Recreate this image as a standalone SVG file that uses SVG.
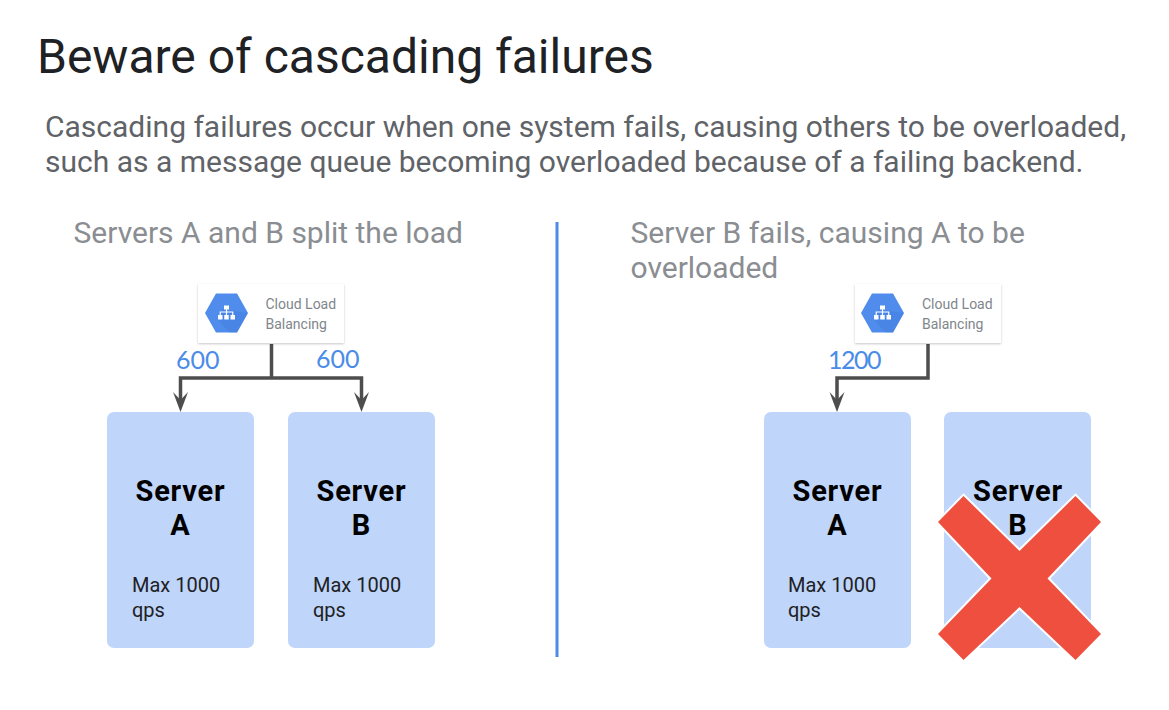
<svg xmlns="http://www.w3.org/2000/svg" width="1169" height="710" viewBox="0 0 1169 710">
<style>
text{font-family:Roboto,"Liberation Sans",sans-serif}
.title{font-size:48px;fill:#202124}
.body{font-size:30px;fill:#5f6368}
.sub{font-size:30px;fill:#8a8d91}
.srv{fill:#bfd5f9}
.name{font-size:29px;font-weight:700;fill:#000;text-anchor:middle;letter-spacing:.8px}
.max{font-size:20px;fill:#202124}
.num{font-size:25px;fill:#4a8ce8;font-family:Lato,Roboto,sans-serif}
.lb{font-size:14px;fill:#80868b}
.card{fill:#fff;filter:url(#sh)}
.wire{fill:none;stroke:#4d4d4d;stroke-width:3.500}
.head{fill:#4d4d4d}
.hex{fill:#4f8cec}
.ico{fill:#fff}
</style>
<defs>
<filter id="sh" x="-5%" y="-10%" width="110%" height="125%"><feDropShadow dx="0" dy="1" stdDeviation="1" flood-color="#000" flood-opacity="0.22"/></filter>
<g id="iconlb">
<path class="hex" d="M-21.500 0L-10.500 -19.500H10.500L21.500 0L10.500 19.500H-10.500Z"/>
<path d="M-4 -4L21.500 0L10.500 19.500H3L-9 6Z" fill="#3b78d8" opacity=".35"/>
<rect class="ico" x="-2.500" y="-7.500" width="5" height="4"/>
<rect class="ico" x="-8.500" y="2" width="4.500" height="4.500"/>
<rect class="ico" x="-2.250" y="2" width="4.500" height="4.500"/>
<rect class="ico" x="4" y="2" width="4.500" height="4.500"/>
<path d="M0 -4V2M-6.250 2V-1H6.250V2" fill="none" stroke="#fff" stroke-width="1.200"/>
</g>
</defs>
<rect width="1169" height="710" fill="#fff"/>
<text class="title" x="37" y="73">Beware of cascading failures</text>
<text class="body" x="45" y="136.500">Cascading failures occur when one system fails, causing others to be overloaded,</text>
<text class="body" x="45" y="172">such as a message queue becoming overloaded because of a failing backend.</text>
<text class="sub" x="73.500" y="243">Servers A and B split the load</text>
<text class="sub" x="630.500" y="243">Server B fails, causing A to be</text>
<text class="sub" x="630.500" y="278">overloaded</text>
<line id="divider" x1="557" y1="222" x2="557" y2="657" stroke="#4a8ce8" stroke-width="3"/>
<g id="connectors">
<path class="wire" d="M271.500 344V378M180.500 403V378H361.500V403"/>
<path class="head" d="M173 392L180.500 400L188 392L180.500 412Z"/>
<path class="head" d="M354 392L361.500 400L369 392L361.500 412Z"/>
<path class="wire" d="M928 344V378H837V403"/>
<path class="head" d="M829.500 392L837 400L844.500 392L837 412Z"/>
<text class="num" x="176" y="369">600</text>
<text class="num" x="316" y="367.500">600</text>
<text class="num" x="828" y="369" letter-spacing="-1.500">1200</text>
</g>
<g id="lb-left">
<rect class="card" x="198" y="284" width="146" height="59"/>
<use href="#iconlb" x="226.500" y="313"/>
<text class="lb" x="265.500" y="308.500">Cloud Load</text>
<text class="lb" x="265.500" y="329">Balancing</text>
</g>
<g id="lb-right">
<rect class="card" x="855" y="284" width="146" height="59"/>
<use href="#iconlb" x="882.500" y="313"/>
<text class="lb" x="922" y="308.500">Cloud Load</text>
<text class="lb" x="922" y="329">Balancing</text>
</g>
<g id="server-a-left">
<rect class="srv" x="107" y="412" width="147" height="236" rx="7"/>
<text class="name" x="180.500" y="501">Server</text>
<text class="name" x="180.500" y="535">A</text>
<text class="max" x="132" y="592">Max 1000</text>
<text class="max" x="132" y="617">qps</text>
</g>
<g id="server-b-left">
<rect class="srv" x="288" y="412" width="147" height="236" rx="7"/>
<text class="name" x="361.500" y="501">Server</text>
<text class="name" x="361.500" y="535">B</text>
<text class="max" x="313" y="592">Max 1000</text>
<text class="max" x="313" y="617">qps</text>
</g>
<g id="server-a-right">
<rect class="srv" x="764" y="412" width="147" height="236" rx="7"/>
<text class="name" x="837.500" y="501">Server</text>
<text class="name" x="837.500" y="535">A</text>
<text class="max" x="788" y="592">Max 1000</text>
<text class="max" x="788" y="617">qps</text>
</g>
<g id="server-b-right">
<rect class="srv" x="944" y="412" width="147" height="236" rx="7"/>
<text class="name" x="1018" y="501">Server</text>
<text class="name" x="1018" y="535">B</text>
<path d="M963.500 496L1019.500 551L1075.500 496L1101 522L1047.500 578.500L1101 634L1075.500 660L1019.500 607L963.500 660L938 634L991.500 578.500L938 522Z" fill="#ef4f3e" stroke="#fff" stroke-width="4" paint-order="stroke" stroke-linejoin="miter"/>
</g>
</svg>
